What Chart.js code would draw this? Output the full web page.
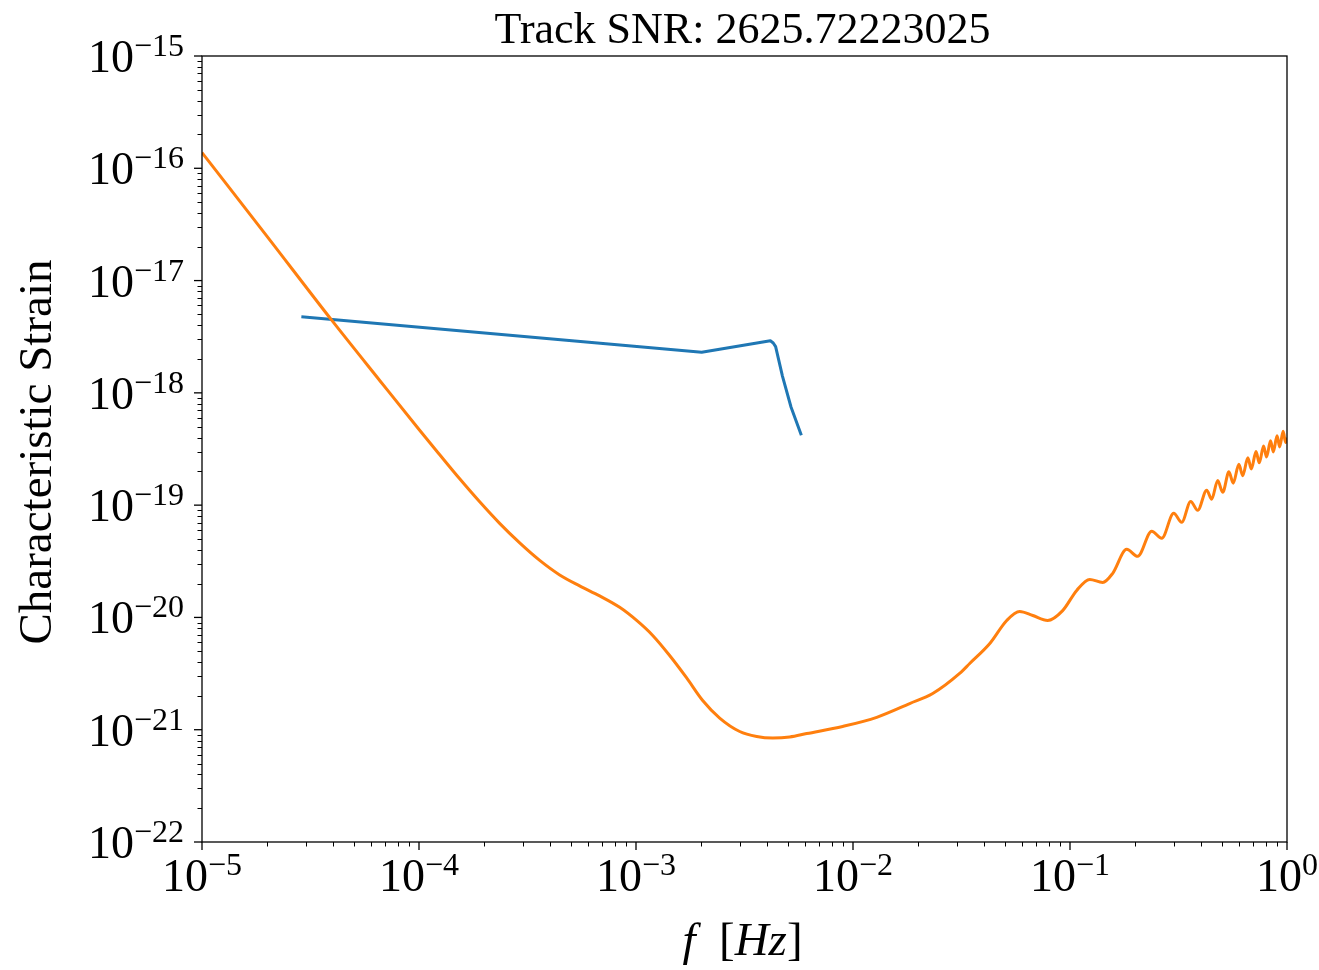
<!DOCTYPE html>
<html>
<head>
<meta charset="utf-8">
<title>Track SNR</title>
<script src="https://cdn.jsdelivr.net/npm/chart.js@4/dist/chart.umd.min.js"></script>
<style>
  html, body { margin: 0; padding: 0; background: #fff; }
  #wrap { width: 1319px; height: 970px; position: relative; }
</style>
</head>
<body>
<div id="wrap"><canvas id="chart"></canvas></div>
<script>
const titleText = "Track SNR: 2625.72223025";
const yLabel = "Characteristic Strain";

// source track (blue)
const trackFreq = [2.87e-5, 2.008e-3, 4.16e-3, 4.29e-3, 4.40e-3, 4.73e-3, 5.18e-3, 5.78e-3];
const trackStrain = [4.76e-18, 2.30e-18, 2.91e-18, 2.78e-18, 2.58e-18, 1.41e-18, 7.48e-19, 4.19e-19];

// sensitivity curve (orange)
const noiseFreq = [
  1e-5, 1.99e-5, 3.96e-5, 6.59e-5, 1.007e-4, 1.246e-4, 1.540e-4, 1.904e-4, 2.353e-4, 2.911e-4,
  3.60e-4, 4.45e-4, 5.50e-4, 6.80e-4, 8.41e-4, 1.007e-3, 1.194e-3, 1.429e-3, 1.712e-3, 2.029e-3,
  2.43e-3, 3.005e-3, 3.60e-3, 4.27e-3, 5.11e-3, 6.12e-3, 8.96e-3,
  1.286e-2, 1.825e-2, 2.33e-2, 3.10e-2, 3.45e-2, 4.27e-2, 5.11e-2, 5.86e-2, 6.74e-2, 7.89e-2,
  9.25e-2, 0.1074, 0.1233, 0.1415, 0.1573, 0.1825, 0.2051, 0.2379, 0.2647, 0.3005,
  0.3271, 0.3599, 0.3877, 0.4266, 0.4498, 0.4794, 0.5055, 0.54, 0.565, 0.60,
  0.625, 0.66, 0.685, 0.72, 0.745, 0.78, 0.805, 0.84, 0.865, 0.90,
  0.925, 0.96, 0.985, 1.0
];
const noiseStrain = [
  1.38e-16, 2.49e-17, 4.44e-18, 1.29e-18, 4.64e-19, 2.81e-19, 1.715e-19, 1.07e-19, 6.88e-20, 4.61e-20,
  3.22e-20, 2.39e-20, 1.91e-20, 1.555e-20, 1.23e-20, 9.40e-21, 6.91e-21, 4.58e-21, 2.89e-21, 1.82e-21,
  1.27e-21, 9.64e-22, 8.70e-22, 8.43e-22, 8.61e-22, 9.24e-22, 1.07e-21,
  1.29e-21, 1.71e-21, 2.10e-21, 3.17e-21, 3.89e-21, 5.86e-21, 9.40e-21, 1.13e-20, 1.04e-20, 9.40e-21,
  1.15e-20, 1.74e-20, 2.18e-20, 2.05e-20, 2.47e-20, 4.04e-20, 3.50e-20, 5.85e-20, 5.06e-20, 8.45e-20,
  7.03e-20, 1.08e-19, 8.99e-20, 1.36e-19, 1.13e-19, 1.66e-19, 1.30e-19, 1.98e-19, 1.57e-19, 2.31e-19,
  1.83e-19, 2.64e-19, 2.10e-19, 3.00e-19, 2.38e-19, 3.37e-19, 2.68e-19, 3.75e-19, 2.98e-19, 4.15e-19,
  3.30e-19, 4.55e-19, 3.61e-19, 4.0e-19
];

const xTickExps = [-5, -4, -3, -2, -1, 0];
const yTickExps = [-22, -21, -20, -19, -18, -17, -16, -15];

const SERIF = "'Liberation Serif', 'DejaVu Serif', serif";
const BASE_SIZE = 46;
const SUP_SIZE = 32;

function toPoints(xs, ys) {
  return xs.map((x, i) => ({ x, y: ys[i] }));
}

function drawPower(ctx, exp, x, baseY, align) {
  const base = "10";
  const sup = exp < 0 ? "\u2212" + (-exp) : String(exp);
  ctx.font = `${BASE_SIZE}px ${SERIF}`;
  const wb = ctx.measureText(base).width;
  ctx.font = `${SUP_SIZE}px ${SERIF}`;
  const ws = ctx.measureText(sup).width;
  const left = align === "center" ? x - (wb + ws) / 2 : x - wb - ws;
  ctx.font = `${BASE_SIZE}px ${SERIF}`;
  ctx.fillText(base, left, baseY);
  ctx.font = `${SUP_SIZE}px ${SERIF}`;
  ctx.fillText(sup, left + wb, baseY - 16);
}

function minorValues(exps) {
  const out = [];
  exps.slice(0, -1).forEach((e) => {
    for (let k = 2; k <= 9; k++) out.push(k * Math.pow(10, e));
  });
  return out;
}

const axisDecor = {
  id: "axisDecor",
  afterDraw(chart) {
    const { ctx, chartArea: a, scales: { x, y } } = chart;
    ctx.save();
    ctx.strokeStyle = "#000";
    ctx.fillStyle = "#000";

    // ticks, outward
    ctx.lineWidth = 1;
    minorValues(xTickExps).forEach((v) => {
      const px = Math.round(x.getPixelForValue(v)) + 0.5;
      ctx.beginPath(); ctx.moveTo(px, a.bottom); ctx.lineTo(px, a.bottom + 4.5); ctx.stroke();
    });
    minorValues(yTickExps).forEach((v) => {
      const py = Math.round(y.getPixelForValue(v)) + 0.5;
      ctx.beginPath(); ctx.moveTo(a.left, py); ctx.lineTo(a.left - 4.5, py); ctx.stroke();
    });
    ctx.lineWidth = 1.3;
    xTickExps.forEach((e) => {
      const px = x.getPixelForValue(Math.pow(10, e));
      ctx.beginPath(); ctx.moveTo(px, a.bottom); ctx.lineTo(px, a.bottom + 8); ctx.stroke();
    });
    yTickExps.forEach((e) => {
      const py = y.getPixelForValue(Math.pow(10, e));
      ctx.beginPath(); ctx.moveTo(a.left, py); ctx.lineTo(a.left - 8, py); ctx.stroke();
    });

    // frame
    ctx.lineWidth = 1.3;
    ctx.strokeRect(a.left, a.top, a.right - a.left, a.bottom - a.top);

    // tick labels
    ctx.textAlign = "left";
    ctx.textBaseline = "alphabetic";
    xTickExps.forEach((e) => drawPower(ctx, e, x.getPixelForValue(Math.pow(10, e)), a.bottom + 49, "center"));
    yTickExps.forEach((e) => drawPower(ctx, e, a.left - 18, y.getPixelForValue(Math.pow(10, e)) + 16, "right"));

    const cx = (a.left + a.right) / 2;

    // title
    ctx.font = `44px ${SERIF}`;
    ctx.textAlign = "center";
    ctx.fillText(titleText, cx - 2, 43);

    // y label
    ctx.save();
    ctx.translate(51, (a.top + a.bottom) / 2 + 3);
    ctx.rotate(-Math.PI / 2);
    ctx.font = `47px ${SERIF}`;
    ctx.fillText(yLabel, 0, 0);
    ctx.restore();

    // x label: f [Hz]
    const parts = [["f", "italic "], ["  [", ""], ["Hz", "italic "], ["]", ""]];
    ctx.textAlign = "left";
    const widths = parts.map(([t, s]) => { ctx.font = `${s}47px ${SERIF}`; return ctx.measureText(t).width; });
    let px = cx - 2 - widths.reduce((s, w) => s + w, 0) / 2;
    parts.forEach(([t, s], i) => {
      ctx.font = `${s}47px ${SERIF}`;
      ctx.fillText(t, px, 955);
      px += widths[i];
    });
    ctx.restore();
  }
};

new Chart(document.getElementById("chart"), {
  type: "line",
  data: {
    datasets: [
      {
        label: "track",
        data: toPoints(trackFreq, trackStrain),
        borderColor: "#1f77b4",
        borderWidth: 3,
        pointRadius: 0,
        tension: 0,
        borderJoinStyle: "round",
        order: 1
      },
      {
        label: "noise",
        data: toPoints(noiseFreq, noiseStrain),
        borderColor: "#ff7f0e",
        borderWidth: 3,
        pointRadius: 0,
        cubicInterpolationMode: "monotone",
        borderJoinStyle: "round",
        order: 0
      }
    ]
  },
  options: {
    responsive: true,
    maintainAspectRatio: false,
    animation: false,
    layout: { padding: { top: 56, right: 32, left: 0, bottom: 0 } },
    plugins: { legend: { display: false }, title: { display: false }, tooltip: { enabled: false } },
    scales: {
      x: {
        type: "logarithmic",
        min: 1e-5,
        max: 1,
        grid: { display: false },
        border: { display: false },
        ticks: { display: false },
        afterFit: (scale) => { scale.height = 128; }
      },
      y: {
        type: "logarithmic",
        min: 1e-22,
        max: 1e-15,
        grid: { display: false },
        border: { display: false },
        ticks: { display: false },
        afterFit: (scale) => { scale.width = 202; }
      }
    }
  },
  plugins: [axisDecor]
});
</script>
</body>
</html>
